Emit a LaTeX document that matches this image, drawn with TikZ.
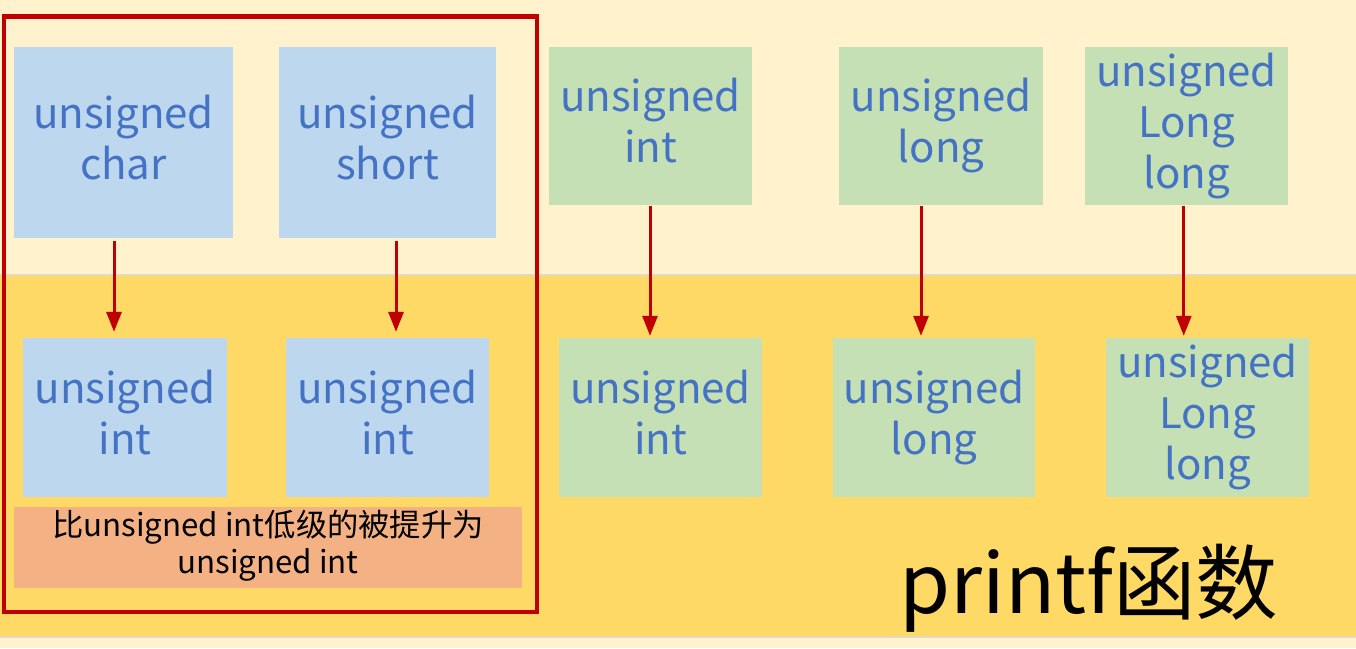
\documentclass[tikz,border=0pt]{standalone}
\usepackage{fontspec}
\setmainfont{Noto Sans CJK SC}
\usetikzlibrary{arrows.meta}
\definecolor{bandtop}{HTML}{FFF2CC}
\definecolor{bandbot}{HTML}{FFD966}
\definecolor{bandline}{HTML}{E2D9C3}
\definecolor{boxblue}{HTML}{BDD7EE}
\definecolor{boxgreen}{HTML}{C5E0B4}
\definecolor{boxorange}{HTML}{F4B183}
\definecolor{framered}{HTML}{C00000}
\definecolor{txtblue}{HTML}{4472C4}
\newcommand\boxstrut{\rule[-14.5pt]{0pt}{51pt}}
\tikzset{
  typebox/.style={draw=none, inner sep=0pt, align=center, text=txtblue,
    font=\fontsize{42}{51}\selectfont},
  bluebox/.style={typebox, fill=boxblue},
  greenbox/.style={typebox, fill=boxgreen},
  notebox/.style={draw=none, fill=boxorange, inner sep=0pt, align=center,
    text=black, font=\fontsize{31.3}{37}\selectfont},
  promote/.style={draw=framered, line width=3pt,
    -{Triangle[length=20pt,width=15pt]}},
  frame/.style={draw=framered, line width=4.5pt},
}
\begin{document}
\begin{tikzpicture}[x=1pt,y=-1pt]
\useasboundingbox (0,0) rectangle (1356,648);
% bands
\fill[bandtop] (0,0) rectangle (1356,275);
\fill[bandbot] (0,275) rectangle (1356,637);
\fill[bandtop] (0,637) rectangle (1356,648);
\draw[bandline, line width=1.5pt] (0,275) -- (1356,275);
\draw[bandline, line width=1.5pt] (0,637) -- (1356,637);
% top row
\node[bluebox, minimum width=219pt, minimum height=191pt] (b1) at (123.5,142.5) {\boxstrut unsigned\\\boxstrut char};
\node[bluebox, minimum width=217pt, minimum height=191pt] (b2) at (387.5,142.5) {\boxstrut unsigned\\\boxstrut short};
\node[greenbox, minimum width=203pt, minimum height=158pt] (g1) at (650.5,126) {\boxstrut unsigned\\\boxstrut int};
\node[greenbox, minimum width=204pt, minimum height=158pt] (g2) at (941,126) {\boxstrut unsigned\\\boxstrut long};
\node[greenbox, minimum width=203pt, minimum height=158pt] (g3) at (1186.5,126) {\boxstrut unsigned\\\boxstrut Long\\\boxstrut long};
% bottom row
\node[bluebox, minimum width=204pt, minimum height=159pt] (b3) at (125,417.5) {\boxstrut unsigned\\\boxstrut int};
\node[bluebox, minimum width=203pt, minimum height=159pt] (b4) at (387.5,417.5) {\boxstrut unsigned\\\boxstrut int};
\node[greenbox, minimum width=203pt, minimum height=159pt] (g4) at (660.5,417.5) {\boxstrut unsigned\\\boxstrut int};
\node[greenbox, minimum width=202pt, minimum height=159pt] (g5) at (934,417.5) {\boxstrut unsigned\\\boxstrut long};
\node[greenbox, minimum width=203pt, minimum height=159pt] (g6) at (1207.5,417.5) {\boxstrut unsigned\\\boxstrut Long\\\boxstrut long};
% note
\node[notebox, minimum width=508pt, minimum height=81pt] (note) at (268,547.5) {\strut 比unsigned int低级的被提升为\\\strut unsigned int};
% frame
\draw[frame] (4,16.5) rectangle (537,612);
% arrows
\draw[promote] ([xshift=-9.5pt,yshift=-3pt]b1.south) -- ([xshift=-11pt,yshift=6pt]b3.north);
\draw[promote] ([xshift=8.5pt,yshift=-3pt]b2.south) -- ([xshift=8.5pt,yshift=6pt]b4.north);
\draw[promote] ([xshift=-0.5pt,yshift=-1pt]g1.south) -- ([xshift=-10.5pt,yshift=2pt]g4.north);
\draw[promote] ([xshift=-20pt,yshift=-1pt]g2.south) -- ([xshift=-13pt,yshift=2pt]g5.north);
\draw[promote] ([xshift=-2.75pt,yshift=-1pt]g3.south) -- ([xshift=-23.75pt,yshift=2pt]g6.north);
% title
\node[anchor=base west, inner sep=0pt, font=\fontsize{82.5}{96}\selectfont, text=black] (title) at (899,613) {printf函数};
\end{tikzpicture}
\end{document}
